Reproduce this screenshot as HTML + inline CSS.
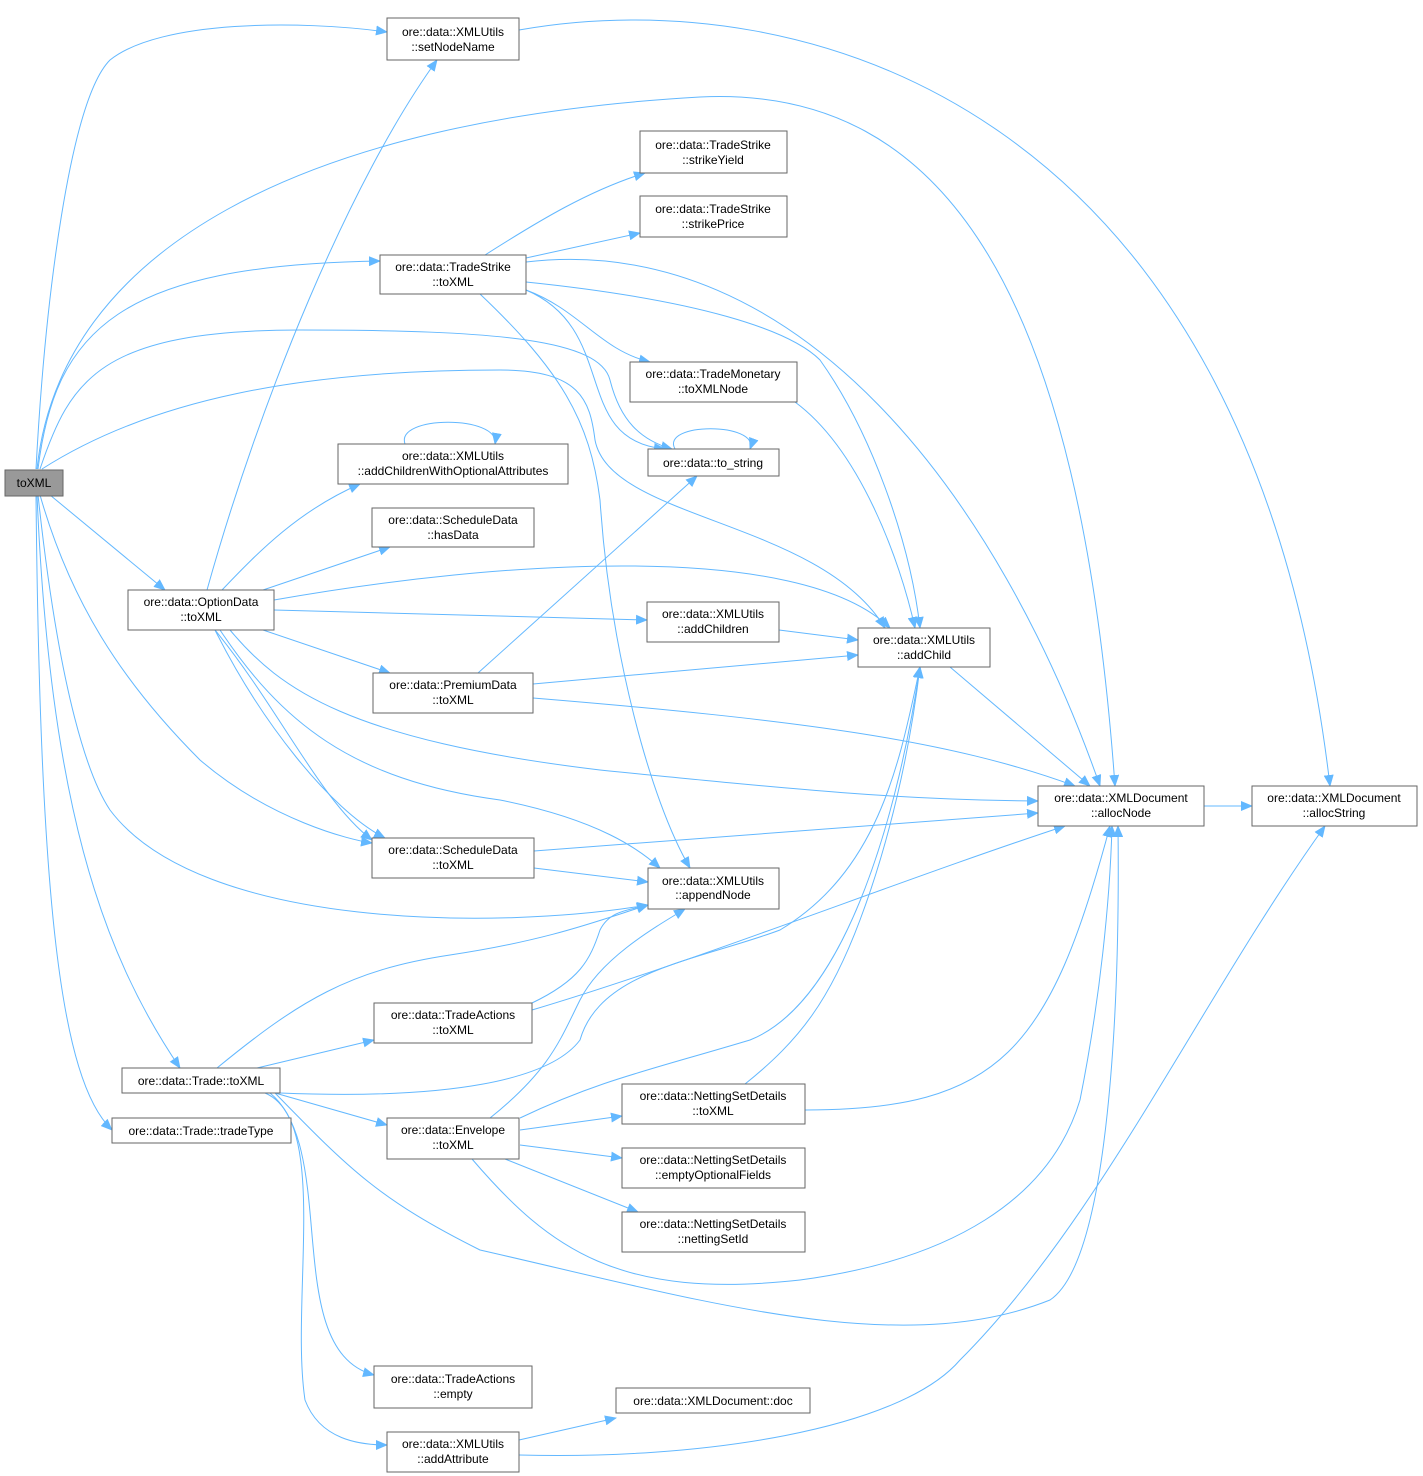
<!DOCTYPE html>
<html><head><meta charset="utf-8"><style>
html,body{margin:0;padding:0;background:#fff;}
svg{display:block;}
text{font-family:"Liberation Sans",Arial,sans-serif;font-size:12px;fill:#000;}
.n{fill:#fff;stroke:#666;stroke-width:1;}
.e{fill:none;stroke:#63b8ff;stroke-width:1;}
</style></head><body>
<svg width="1423" height="1476" viewBox="0 0 1423 1476" xmlns="http://www.w3.org/2000/svg">
<defs><marker id="a" markerWidth="12" markerHeight="10" refX="11" refY="5" orient="auto" markerUnits="userSpaceOnUse"><path d="M0,0 L12,5 L0,10 z" fill="#63b8ff"/></marker></defs>
<g class="e" marker-end="url(#a)">
<path d="M36,469 C45,300 70,100 110,60 C160,20 300,20 387,32"/>
<path d="M37,469 C60,250 300,120 700,97 C950,85 1080,300 1115,786"/>
<path d="M38,469 C55,330 120,265 380,261"/>
<path d="M40,469 C70,380 100,330 300,330 C500,330 600,340 610,380 C620,420 640,440 672,449"/>
<path d="M42,469 C150,400 300,370 500,370 C580,370 590,400 595,440 C610,520 820,520 885,628"/>
<path d="M50,495 L165,590"/>
<path d="M40,495 C70,600 120,680 200,760 C270,820 350,840 372,843"/>
<path d="M38,495 C60,700 90,780 110,810 C200,930 500,930 648,905"/>
<path d="M37,495 C50,800 100,950 180,1068"/>
<path d="M36,495 C40,900 60,1080 112,1130"/>
<path d="M519,30 C800,-20 1250,100 1330,786"/>
<path d="M207,590 C260,400 350,180 437,60"/>
<path d="M222,590 C260,550 300,510 360,484"/>
<path d="M263,590 L390,547"/>
<path d="M274,600 C500,560 800,540 890,628"/>
<path d="M274,610 L647,620"/>
<path d="M263,630 L390,673"/>
<path d="M230,630 C280,690 350,740 600,770 C800,790 900,800 1038,801"/>
<path d="M215,630 C260,720 330,810 385,838"/>
<path d="M215,630 C280,710 320,800 372,840"/>
<path d="M220,630 C280,720 350,780 500,800 C600,820 640,850 660,868"/>
<path d="M485,255 C540,220 590,190 645,173"/>
<path d="M526,258 L640,233"/>
<path d="M526,262 C800,230 1000,500 1100,786"/>
<path d="M526,282 C700,300 790,330 820,360 C870,430 910,540 920,628"/>
<path d="M526,290 C580,310 600,350 650,362"/>
<path d="M526,290 C620,330 570,440 665,449"/>
<path d="M480,294 C560,370 590,420 600,500 C610,650 650,800 690,868"/>
<path d="M795,402 C860,450 900,560 915,628"/>
<path d="M675,449 C660,422 760,422 750,449"/>
<path d="M405,444 C395,415 500,415 495,444"/>
<path d="M779,630 L858,640"/>
<path d="M950,667 L1090,786"/>
<path d="M533,684 L858,655"/>
<path d="M478,673 L697,476"/>
<path d="M533,698 C800,720 950,740 1075,786"/>
<path d="M1204,806 L1252,806"/>
<path d="M534,851 L1038,813"/>
<path d="M534,868 L648,882"/>
<path d="M217,1068 C300,1000 350,970 450,955 C550,940 600,920 648,905"/>
<path d="M257,1068 L374,1040"/>
<path d="M280,1093 C450,1100 550,1080 580,1040 C600,970 700,960 780,930 C880,870 900,760 920,667"/>
<path d="M275,1093 L387,1125"/>
<path d="M275,1093 C350,1170 380,1200 480,1250 C700,1300 900,1360 1050,1300 C1110,1260 1120,1000 1118,826"/>
<path d="M270,1093 C340,1150 280,1350 374,1375"/>
<path d="M265,1093 C330,1120 290,1300 305,1400 C320,1440 360,1445 387,1445"/>
<path d="M532,1003 C580,980 590,960 600,930 C610,910 630,910 648,905"/>
<path d="M532,1010 C700,960 900,880 1065,826"/>
<path d="M490,1118 C550,1070 560,1040 580,1000 C600,960 650,930 685,909"/>
<path d="M520,1118 C600,1080 650,1070 750,1040 C850,1000 900,800 920,667"/>
<path d="M520,1130 L622,1116"/>
<path d="M520,1145 L622,1158"/>
<path d="M505,1159 L638,1212"/>
<path d="M472,1159 C550,1250 620,1300 800,1280 C950,1260 1050,1200 1080,1100 C1100,1000 1110,900 1112,826"/>
<path d="M745,1084 C800,1040 830,1000 860,920 C890,840 910,750 920,667"/>
<path d="M805,1110 C1000,1110 1050,1050 1110,826"/>
<path d="M519,1440 L616,1418"/>
<path d="M519,1455 C700,1460 900,1430 960,1360 C1100,1220 1200,1000 1325,826"/>
</g>
<g text-anchor="middle">
<rect x="5" y="470" width="58" height="26" fill="#999" stroke="#666"/><text x="34" y="487">toXML</text>
<rect class="n" x="387" y="18" width="132" height="42"/><text x="453" y="36">ore::data::XMLUtils</text><text x="453" y="51">::setNodeName</text>
<rect class="n" x="640" y="131" width="147" height="42"/><text x="713" y="149">ore::data::TradeStrike</text><text x="713" y="164">::strikeYield</text>
<rect class="n" x="640" y="196" width="147" height="41"/><text x="713" y="213">ore::data::TradeStrike</text><text x="713" y="228">::strikePrice</text>
<rect class="n" x="380" y="255" width="146" height="39"/><text x="453" y="271">ore::data::TradeStrike</text><text x="453" y="286">::toXML</text>
<rect class="n" x="630" y="362" width="167" height="40"/><text x="713" y="378">ore::data::TradeMonetary</text><text x="713" y="393">::toXMLNode</text>
<rect class="n" x="648" y="449" width="131" height="27"/><text x="713" y="467">ore::data::to_string</text>
<rect class="n" x="338" y="444" width="230" height="40"/><text x="453" y="460">ore::data::XMLUtils</text><text x="453" y="475">::addChildrenWithOptionalAttributes</text>
<rect class="n" x="372" y="508" width="162" height="39"/><text x="453" y="524">ore::data::ScheduleData</text><text x="453" y="539">::hasData</text>
<rect class="n" x="128" y="590" width="146" height="40"/><text x="201" y="606">ore::data::OptionData</text><text x="201" y="621">::toXML</text>
<rect class="n" x="647" y="602" width="132" height="40"/><text x="713" y="618">ore::data::XMLUtils</text><text x="713" y="633">::addChildren</text>
<rect class="n" x="858" y="628" width="132" height="39"/><text x="924" y="644">ore::data::XMLUtils</text><text x="924" y="659">::addChild</text>
<rect class="n" x="373" y="673" width="160" height="40"/><text x="453" y="689">ore::data::PremiumData</text><text x="453" y="704">::toXML</text>
<rect class="n" x="1038" y="786" width="166" height="40"/><text x="1121" y="802">ore::data::XMLDocument</text><text x="1121" y="817">::allocNode</text>
<rect class="n" x="1252" y="786" width="165" height="40"/><text x="1334" y="802">ore::data::XMLDocument</text><text x="1334" y="817">::allocString</text>
<rect class="n" x="372" y="838" width="162" height="40"/><text x="453" y="854">ore::data::ScheduleData</text><text x="453" y="869">::toXML</text>
<rect class="n" x="648" y="868" width="131" height="41"/><text x="713" y="885">ore::data::XMLUtils</text><text x="713" y="899">::appendNode</text>
<rect class="n" x="374" y="1003" width="158" height="40"/><text x="453" y="1019">ore::data::TradeActions</text><text x="453" y="1034">::toXML</text>
<rect class="n" x="122" y="1068" width="158" height="25"/><text x="201" y="1085">ore::data::Trade::toXML</text>
<rect class="n" x="112" y="1118" width="179" height="25"/><text x="201" y="1135">ore::data::Trade::tradeType</text>
<rect class="n" x="387" y="1118" width="132" height="41"/><text x="453" y="1134">ore::data::Envelope</text><text x="453" y="1149">::toXML</text>
<rect class="n" x="622" y="1084" width="183" height="40"/><text x="713" y="1100">ore::data::NettingSetDetails</text><text x="713" y="1115">::toXML</text>
<rect class="n" x="622" y="1148" width="183" height="40"/><text x="713" y="1164">ore::data::NettingSetDetails</text><text x="713" y="1179">::emptyOptionalFields</text>
<rect class="n" x="622" y="1212" width="183" height="40"/><text x="713" y="1228">ore::data::NettingSetDetails</text><text x="713" y="1243">::nettingSetId</text>
<rect class="n" x="374" y="1366" width="158" height="42"/><text x="453" y="1383">ore::data::TradeActions</text><text x="453" y="1398">::empty</text>
<rect class="n" x="616" y="1388" width="194" height="25"/><text x="713" y="1405">ore::data::XMLDocument::doc</text>
<rect class="n" x="387" y="1432" width="132" height="40"/><text x="453" y="1448">ore::data::XMLUtils</text><text x="453" y="1463">::addAttribute</text>
</g>
</svg>
</body></html>
